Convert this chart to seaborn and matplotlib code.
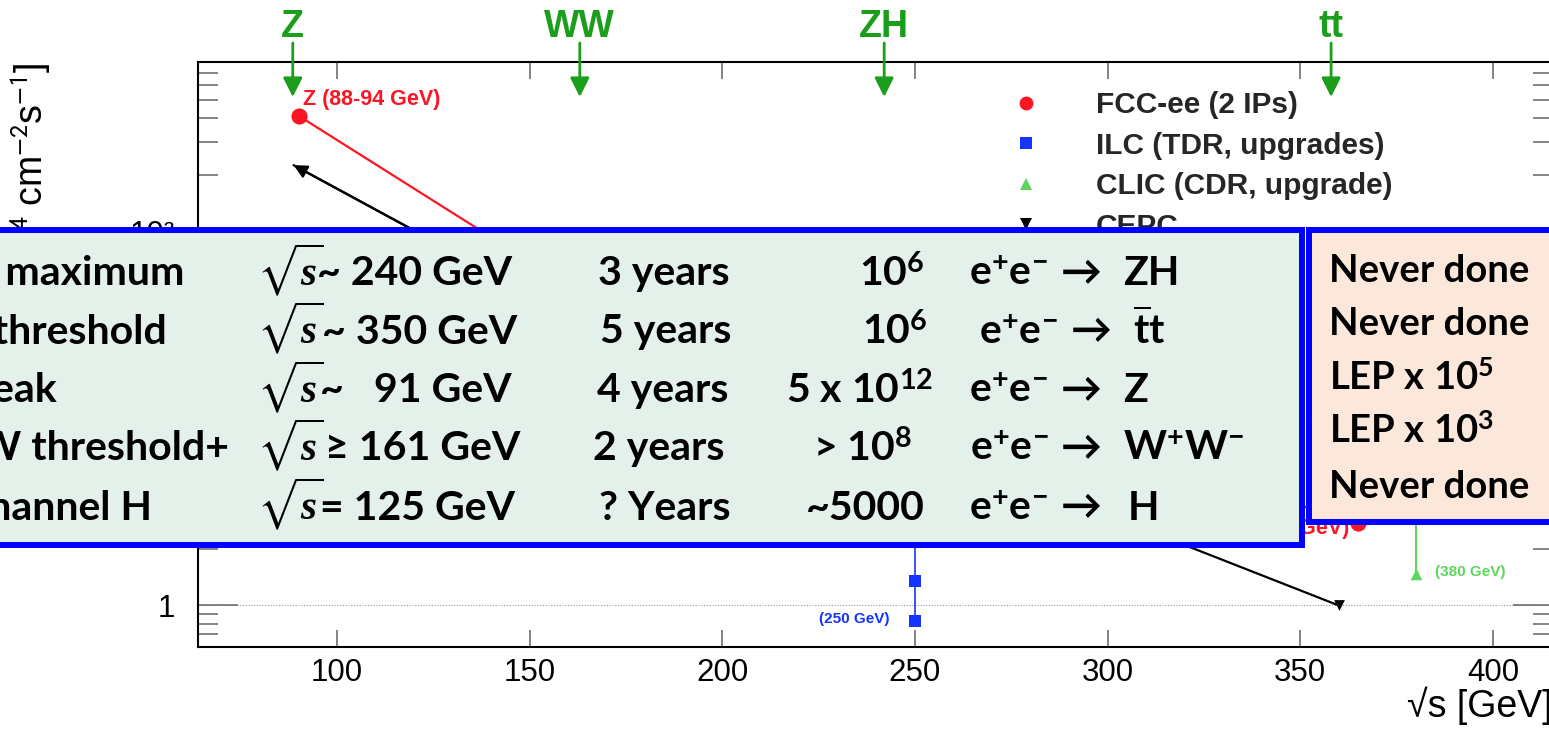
import numpy as np
import pandas as pd
import matplotlib
matplotlib.use("Agg")
import matplotlib.pyplot as plt
import matplotlib.ticker as mticker
from matplotlib.patches import Rectangle, ArrowStyle
from matplotlib.lines import Line2D
import seaborn as sns

# ---------------- data ----------------
fcc_sqrt_s = [90, 160, 240, 365]
fcc_lumi = [413, 51, 17, 2.75]
ilc_sqrt_s = [250, 250, 250]
ilc_lumi = [0.83, 1.35, 3.0]
clic_sqrt_s = [380, 380]
clic_lumi = [1.48, 4.0]
cepc_sqrt_s = [88.7, 160, 240, 360]
cepc_lumi = [225, 36, 9.3, 1.0]

process_labels = ["Z", "WW", "ZH", "tt"]
process_sqrt_s = [88.5, 163, 242, 358]

legend_labels = ["FCC-ee (2 IPs)", "ILC (TDR, upgrades)", "CLIC (CDR, upgrade)", "CEPC"]
point_labels = ["Z (88-94 GeV)", "tt (365 GeV)", "(250 GeV)", "(380 GeV)"]

x_ticks = [100, 150, 200, 250, 300, 350, 400]
y_ticks = [1, 10, 100]
y_ticklabels = ["1", "10", "10\u00b2"]

table_process = ["ZH maximum", "tt threshold", "Z peak", "WW threshold+", "s-channel H"]
table_energy = ["~ 240 GeV", "~ 350 GeV", "~   91 GeV", "\u2265 161 GeV", "= 125 GeV"]
table_years = ["3 years", "5 years", "4 years", "2 years", "? Years"]
table_events = [r"10$^{6}$", r"10$^{6}$", r"5 x 10$^{12}$", r"> 10$^{8}$", "~5000"]
table_final = ["ZH", r"$\overline{\mathrm{t}}$t", "Z", r"W$^{+}$W$^{-}$", "H"]
table_note = ["Never done", "Never done", r"LEP x 10$^{5}$", r"LEP x 10$^{3}$", "Never done"]

# ---------------- style ----------------
sns.set_theme(style="white")
plt.rcParams["font.family"] = ["Liberation Sans", "DejaVu Sans"]
plt.rcParams["mathtext.fontset"] = "stixsans"
plt.rcParams["mathtext.rm"] = "Lato:bold"
plt.rcParams["mathtext.bf"] = "Lato:bold"
plt.rcParams["mathtext.it"] = "Liberation Serif:bold:italic"
plt.rcParams["mathtext.fallback"] = "stixsans"

W, H = 1549, 729
fig = plt.figure(figsize=(W / 100, H / 100), dpi=100)
fig.patch.set_facecolor("white")

def fx(p):
    return p / W

def fy(p):
    return 1 - p / H

ax_l, ax_r, ax_t, ax_b = 198, 1553, 62, 647
ax = fig.add_axes([fx(ax_l), fy(ax_b), (ax_r - ax_l) / W, (ax_b - ax_t) / H])
ax.set_facecolor("white")
ax.set_yscale("log")
ax.set_xlim(63.9, 415.6)
ax.set_ylim(0.6, 800)

RED = "#ff1424"
BLUE = "#1434ff"
GREEN = "#5cd65c"
DGREEN = "#1b9e1b"

df_fcc = pd.DataFrame({"s": fcc_sqrt_s, "L": fcc_lumi})
df_ilc = pd.DataFrame({"s": ilc_sqrt_s, "L": ilc_lumi})
df_clic = pd.DataFrame({"s": clic_sqrt_s, "L": clic_lumi})
df_cepc = pd.DataFrame({"s": cepc_sqrt_s, "L": cepc_lumi})

sns.lineplot(data=df_fcc, x="s", y="L", sort=False, estimator=None, color=RED, lw=1.6, ax=ax)
sns.scatterplot(data=df_fcc, x="s", y="L", marker="o", s=135, color=RED, linewidth=0, ax=ax, zorder=4)
sns.lineplot(data=df_ilc, x="s", y="L", sort=False, estimator=None, color=BLUE, lw=1.2, ax=ax)
sns.scatterplot(data=df_ilc, x="s", y="L", marker="s", s=80, color=BLUE, linewidth=0, ax=ax, zorder=4)
sns.lineplot(data=df_clic, x="s", y="L", sort=False, estimator=None, color=GREEN, lw=1.5, ax=ax)
sns.scatterplot(data=df_clic, x="s", y="L", marker="^", s=70, color=GREEN, linewidth=0, ax=ax, zorder=4)
sns.lineplot(data=df_cepc, x="s", y="L", sort=False, estimator=None, color="black", lw=1.6, ax=ax)
sns.scatterplot(data=df_cepc.iloc[1:], x="s", y="L", marker="v", s=60, color="black", linewidth=0, ax=ax, zorder=4)
ax.annotate("", xy=(cepc_sqrt_s[0], cepc_lumi[0]), xytext=(cepc_sqrt_s[1], cepc_lumi[1]),
            arrowprops=dict(arrowstyle=ArrowStyle("-|>", head_length=0.4, head_width=0.2),
                            mutation_scale=20, color="black", lw=1.6, shrinkA=0, shrinkB=0))

# point labels
ax.annotate(point_labels[0], xy=(fcc_sqrt_s[0], fcc_lumi[0]), xytext=(3.5, 11.5), textcoords="offset points",
            color=RED, fontsize=15.5, fontweight="bold", ha="left", va="center")
ax.annotate(point_labels[1], xy=(fcc_sqrt_s[-1], fcc_lumi[-1]), xytext=(-6.5, -3.5), textcoords="offset points",
            color=RED, fontsize=15.5, fontweight="bold", ha="right", va="center")
ax.annotate(point_labels[2], xy=(ilc_sqrt_s[0], ilc_lumi[0]), xytext=(-18, 1.5), textcoords="offset points",
            color=BLUE, fontsize=11, fontweight="bold", ha="right", va="center")
ax.annotate(point_labels[3], xy=(clic_sqrt_s[0], clic_lumi[0]), xytext=(14, 1), textcoords="offset points",
            color=GREEN, fontsize=11, fontweight="bold", ha="left", va="center")

# process arrows on top
xt = ax.get_xaxis_transform()
for lab, xs in zip(process_labels, process_sqrt_s):
    ax.annotate("", xy=(xs, (ax_b - 97) / (ax_b - ax_t)), xytext=(xs, (ax_b - 43) / (ax_b - ax_t)),
                xycoords=xt, textcoords=xt, annotation_clip=False,
                arrowprops=dict(arrowstyle=ArrowStyle("-|>", head_length=0.4, head_width=0.2),
                                mutation_scale=29, color=DGREEN, lw=2, shrinkA=0, shrinkB=0))
    ax.text(xs, (ax_b - 37) / (ax_b - ax_t), lab, transform=xt, ha="center", va="baseline",
            color=DGREEN, fontsize=27, fontweight="bold", clip_on=False)

# axes cosmetics
ax.set_xticks(x_ticks)
ax.set_xticklabels([str(v) for v in x_ticks])
ax.set_yticks(y_ticks)
ax.set_yticklabels(y_ticklabels)
ax.yaxis.set_minor_locator(mticker.LogLocator(base=10, subs=np.arange(2, 10)))
ax.yaxis.set_minor_formatter(mticker.NullFormatter())
ax.xaxis.set_minor_locator(mticker.NullLocator())
TC = "#6e6e6e"
ax.tick_params(axis="y", which="major", direction="in", length=28.8, width=1.2, color=TC,
               left=True, right=True, labelsize=22.5, pad=16.5, labelcolor="black")
ax.tick_params(axis="y", which="minor", direction="in", length=14.4, width=1.2, color=TC, left=True, right=True)
ax.tick_params(axis="x", which="major", direction="in", length=12.2, width=1.2, color=TC,
               bottom=True, top=True, labelsize=22.5, pad=8, labelcolor="black")
for sp in ax.spines.values():
    sp.set_color("black")
    sp.set_linewidth(1.5)
ax.yaxis.grid(True, which="major", linestyle=(0, (1, 1.5)), color="#9a9a9a", lw=0.8)
ax.xaxis.grid(False)
ax.set_xlabel("")
ax.set_ylabel("")

fig.text(fx(31), fy(62), r"Luminosity [10$^{34}$ cm$^{-2}$s$^{-1}$]", rotation=90, ha="center", va="top",
         fontsize=27, color="black")
fig.text(fx(1553), fy(717), "\u221as [GeV]", ha="right", va="baseline", fontsize=27, color="black")

# legend
handles = [
    Line2D([], [], ls="none", marker="o", ms=10, color=RED, mew=0),
    Line2D([], [], ls="none", marker="s", ms=8, color=BLUE, mew=0),
    Line2D([], [], ls="none", marker="^", ms=8.5, color=GREEN, mew=0),
    Line2D([], [], ls="none", marker="v", ms=8.5, color="black", mew=0),
]
LF = 21.5
em = LF / 72 * 100
leg = ax.legend(handles, legend_labels, loc="upper left",
                bbox_to_anchor=(fx(1026 - em / 2), fy(91)), bbox_transform=fig.transFigure,
                frameon=False, handlelength=1.0, handletextpad=(1096 - 1026 - em / 2) / em,
                borderpad=0, borderaxespad=0, labelspacing=0.42,
                prop=dict(family="Liberation Sans", weight="bold", size=LF))

# ---------------- overlay table ----------------
BORDER = "#0000ff"
fig.add_artist(Rectangle((fx(-20), fy(545)), (1302 + 20) / W, (545 - 229.7) / H, transform=fig.transFigure,
                         facecolor="#e3f1ea", edgecolor=BORDER, lw=4.3, zorder=10))
fig.add_artist(Rectangle((fx(1309), fy(521.7)), (1600 - 1309) / W, (521.7 - 229.5) / H, transform=fig.transFigure,
                         facecolor="#fce8da", edgecolor=BORDER, lw=4.3, zorder=10))

row_base = [285, 343.5, 402, 460.5, 519.5]
note_base = [281.7, 335, 390, 443.3, 498.3]
proc_right = [184, 167, 57, 229, 152]
energy_right = [512, 517, 512, 520, 515]
years_center = [664, 666, 663, 659, 665]
events_right = [925, 928, 933, 912, 925]
ee_left = [969, 979, 969, 970, 969]
arrow_center = [1081, 1091, 1081, 1081, 1081]
final_left = [1123, 1133, 1123, 1123, 1128]

TF = 29.5
NF = 27.5
tkw = dict(fontfamily=["Lato", "DejaVu Sans"], fontweight="bold", math_fontfamily="custom",
           va="baseline", color="black", zorder=12)
for i in range(5):
    yb = fy(row_base[i])
    fig.text(fx(proc_right[i]), yb, table_process[i], ha="right", fontsize=TF, **tkw)
    fig.text(fx(257), yb, r"$\sqrt{s}$", ha="left", fontsize=TF, **tkw)
    fig.text(fx(energy_right[i]), yb, table_energy[i], ha="right", fontsize=TF, **tkw)
    fig.text(fx(years_center[i]), yb, table_years[i], ha="center", fontsize=TF, **tkw)
    fig.text(fx(events_right[i]), yb, table_events[i], ha="right", fontsize=TF, **tkw)
    fig.text(fx(ee_left[i]), yb, r"e$^{+}$e$^{-}$", ha="left", fontsize=TF, **tkw)
    fig.text(fx(arrow_center[i]), yb, "\u2192", ha="center", fontsize=TF, **tkw)
    fig.text(fx(final_left[i]), yb, table_final[i], ha="left", fontsize=TF, **tkw)
    fig.text(fx(1329), fy(note_base[i]), table_note[i], ha="left", fontsize=NF, **tkw)

fig.savefig("out.png", dpi=100, facecolor="white")
